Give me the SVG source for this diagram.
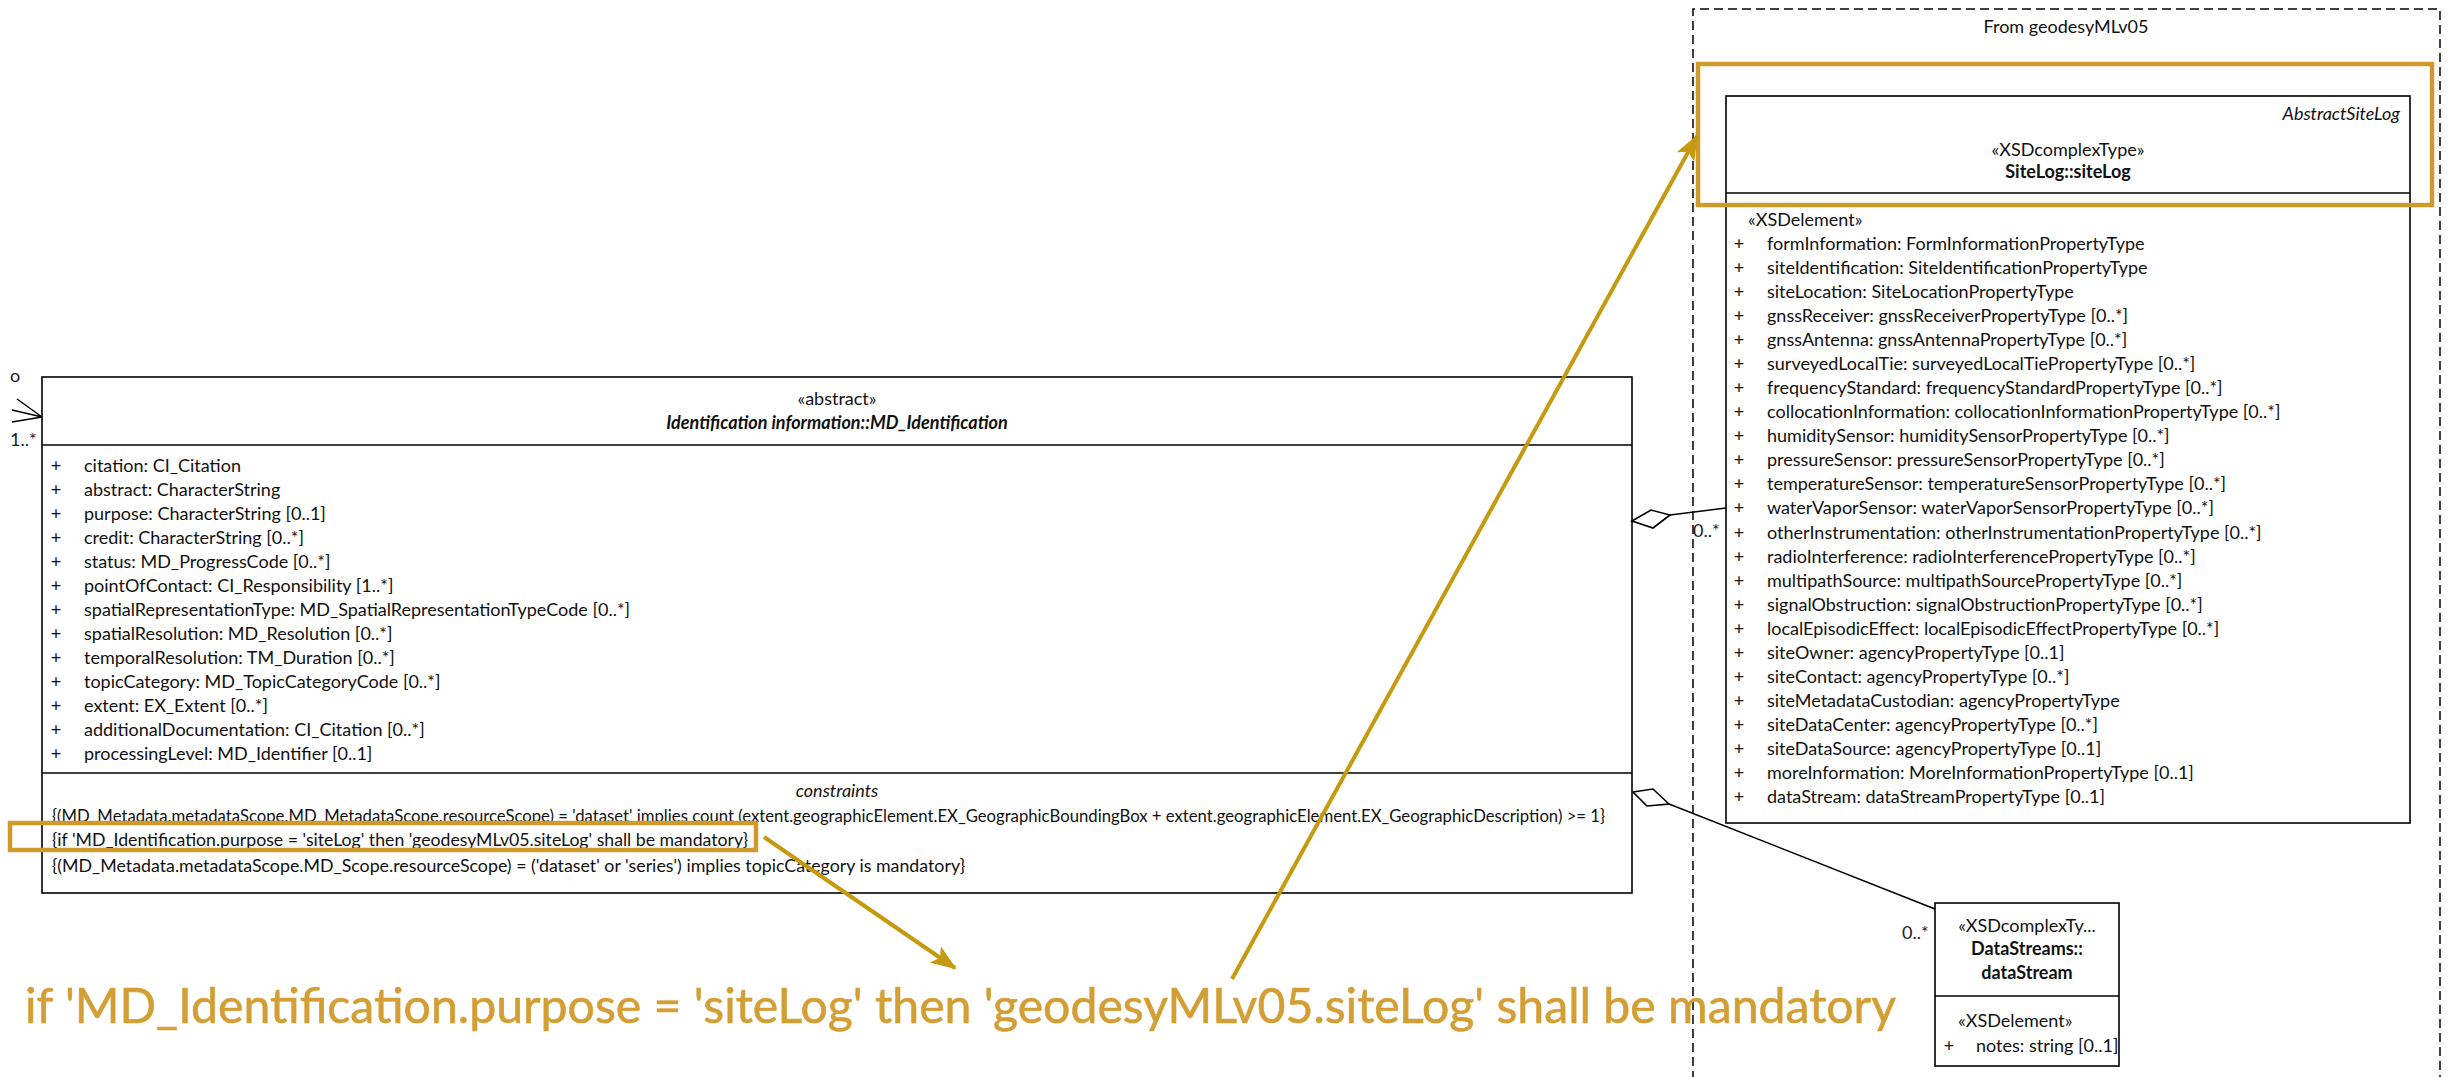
<svg xmlns="http://www.w3.org/2000/svg" width="2456" height="1077" viewBox="0 0 2456 1077">
<style>
.t{font-family:Lato,"Open Sans","Liberation Sans",sans-serif;font-size:18px;fill:#111}
.c{text-anchor:middle}
.b{font-weight:bold}
.i{font-style:italic}
.lbl{font-family:Lato,"Liberation Sans",sans-serif;font-size:18px;fill:#1a1a33}
.box{fill:#fff;stroke:#000;stroke-width:1.6}
.sep{stroke:#000;stroke-width:1.6}
.ln{fill:none;stroke:#000;stroke-width:1.5}
.dia{fill:#fff;stroke:#000;stroke-width:1.6}
.gold{fill:none;stroke:#CF9A2C;stroke-width:4.5}
.garr{fill:none;stroke:#C59A0E;stroke-width:4}
.big{font-family:Lato,"Open Sans","Liberation Sans",sans-serif;font-size:48px;fill:#D39F35;stroke:#D39F35;stroke-width:0.6}
</style>
<defs>
<marker id="ah" markerUnits="userSpaceOnUse" markerWidth="26" markerHeight="20" refX="24" refY="10" orient="auto" viewBox="0 0 26 20">
<path d="M0,0 L26,10 L0,20 L6,10 z" fill="#C59A0E"/>
</marker>
</defs>

<g id="package-geodesyMLv05">
<path d="M1693,1080 L1693,9 L2440,9 L2440,1080" fill="none" stroke="#000" stroke-width="1.5" stroke-dasharray="9,5"/>
<text class="t c" x="2066" y="33">From geodesyMLv05</text>
</g>

<g id="MD_Identification">
<rect class="box" x="42" y="377" width="1590" height="516"/>
<line class="sep" x1="42" y1="445" x2="1632" y2="445"/>
<line class="sep" x1="42" y1="773" x2="1632" y2="773"/>
<text class="t c" x="837" y="405">«abstract»</text>
<text class="t c b i" x="837" y="429">Identification information::MD_Identification</text>
<g class="t">
<text x="56" y="472" class="c">+</text><text x="84" y="472">citation: CI_Citation</text>
<text x="56" y="496" class="c">+</text><text x="84" y="496">abstract: CharacterString</text>
<text x="56" y="520" class="c">+</text><text x="84" y="520">purpose: CharacterString [0..1]</text>
<text x="56" y="544" class="c">+</text><text x="84" y="544">credit: CharacterString [0..*]</text>
<text x="56" y="568" class="c">+</text><text x="84" y="568">status: MD_ProgressCode [0..*]</text>
<text x="56" y="592" class="c">+</text><text x="84" y="592">pointOfContact: CI_Responsibility [1..*]</text>
<text x="56" y="616" class="c">+</text><text x="84" y="616">spatialRepresentationType: MD_SpatialRepresentationTypeCode [0..*]</text>
<text x="56" y="640" class="c">+</text><text x="84" y="640">spatialResolution: MD_Resolution [0..*]</text>
<text x="56" y="664" class="c">+</text><text x="84" y="664">temporalResolution: TM_Duration [0..*]</text>
<text x="56" y="688" class="c">+</text><text x="84" y="688">topicCategory: MD_TopicCategoryCode [0..*]</text>
<text x="56" y="712" class="c">+</text><text x="84" y="712">extent: EX_Extent [0..*]</text>
<text x="56" y="736" class="c">+</text><text x="84" y="736">additionalDocumentation: CI_Citation [0..*]</text>
<text x="56" y="760" class="c">+</text><text x="84" y="760">processingLevel: MD_Identifier [0..1]</text>
</g>
<text class="t c i" x="837" y="797">constraints</text>
<text class="t" x="52" y="822" textLength="1553" lengthAdjust="spacingAndGlyphs">{(MD_Metadata.metadataScope.MD_MetadataScope.resourceScope) = 'dataset' implies count (extent.geographicElement.EX_GeographicBoundingBox + extent.geographicElement.EX_GeographicDescription) &gt;= 1}</text>
<text class="t" x="52" y="846" textLength="696" lengthAdjust="spacingAndGlyphs">{if 'MD_Identification.purpose = 'siteLog' then 'geodesyMLv05.siteLog' shall be mandatory}</text>
<text class="t" x="52" y="872" textLength="913" lengthAdjust="spacingAndGlyphs">{(MD_Metadata.metadataScope.MD_Scope.resourceScope) = ('dataset' or 'series') implies topicCategory is mandatory}</text>
</g>

<g id="siteLog">
<rect class="box" x="1726" y="96" width="684" height="727"/>
<line class="sep" x1="1726" y1="193" x2="2410" y2="193"/>
<text class="t i" x="2400" y="120" text-anchor="end">AbstractSiteLog</text>
<text class="t c" x="2068" y="156">«XSDcomplexType»</text>
<text class="t c b" x="2068" y="178">SiteLog::siteLog</text>
<g class="t">
<text x="1748" y="226">«XSDelement»</text>
<text x="1739" y="250" class="c">+</text><text x="1767" y="250">formInformation: FormInformationPropertyType</text>
<text x="1739" y="274" class="c">+</text><text x="1767" y="274">siteIdentification: SiteIdentificationPropertyType</text>
<text x="1739" y="298.1" class="c">+</text><text x="1767" y="298.1">siteLocation: SiteLocationPropertyType</text>
<text x="1739" y="322.1" class="c">+</text><text x="1767" y="322.1">gnssReceiver: gnssReceiverPropertyType [0..*]</text>
<text x="1739" y="346.2" class="c">+</text><text x="1767" y="346.2">gnssAntenna: gnssAntennaPropertyType [0..*]</text>
<text x="1739" y="370.2" class="c">+</text><text x="1767" y="370.2">surveyedLocalTie: surveyedLocalTiePropertyType [0..*]</text>
<text x="1739" y="394.2" class="c">+</text><text x="1767" y="394.2">frequencyStandard: frequencyStandardPropertyType [0..*]</text>
<text x="1739" y="418.3" class="c">+</text><text x="1767" y="418.3">collocationInformation: collocationInformationPropertyType [0..*]</text>
<text x="1739" y="442.3" class="c">+</text><text x="1767" y="442.3">humiditySensor: humiditySensorPropertyType [0..*]</text>
<text x="1739" y="466.4" class="c">+</text><text x="1767" y="466.4">pressureSensor: pressureSensorPropertyType [0..*]</text>
<text x="1739" y="490.4" class="c">+</text><text x="1767" y="490.4">temperatureSensor: temperatureSensorPropertyType [0..*]</text>
<text x="1739" y="514.4" class="c">+</text><text x="1767" y="514.4">waterVaporSensor: waterVaporSensorPropertyType [0..*]</text>
<text x="1739" y="538.5" class="c">+</text><text x="1767" y="538.5">otherInstrumentation: otherInstrumentationPropertyType [0..*]</text>
<text x="1739" y="562.5" class="c">+</text><text x="1767" y="562.5">radioInterference: radioInterferencePropertyType [0..*]</text>
<text x="1739" y="586.6" class="c">+</text><text x="1767" y="586.6">multipathSource: multipathSourcePropertyType [0..*]</text>
<text x="1739" y="610.6" class="c">+</text><text x="1767" y="610.6">signalObstruction: signalObstructionPropertyType [0..*]</text>
<text x="1739" y="634.6" class="c">+</text><text x="1767" y="634.6">localEpisodicEffect: localEpisodicEffectPropertyType [0..*]</text>
<text x="1739" y="658.7" class="c">+</text><text x="1767" y="658.7">siteOwner: agencyPropertyType [0..1]</text>
<text x="1739" y="682.7" class="c">+</text><text x="1767" y="682.7">siteContact: agencyPropertyType [0..*]</text>
<text x="1739" y="706.8" class="c">+</text><text x="1767" y="706.8">siteMetadataCustodian: agencyPropertyType</text>
<text x="1739" y="730.8" class="c">+</text><text x="1767" y="730.8">siteDataCenter: agencyPropertyType [0..*]</text>
<text x="1739" y="754.8" class="c">+</text><text x="1767" y="754.8">siteDataSource: agencyPropertyType [0..1]</text>
<text x="1739" y="778.9" class="c">+</text><text x="1767" y="778.9">moreInformation: MoreInformationPropertyType [0..1]</text>
<text x="1739" y="802.9" class="c">+</text><text x="1767" y="802.9">dataStream: dataStreamPropertyType [0..1]</text>
</g>
</g>

<g id="dataStream">
<rect class="box" x="1935" y="903" width="184" height="163"/>
<line class="sep" x1="1935" y1="996" x2="2119" y2="996"/>
<text class="t c" x="2027" y="932">«XSDcomplexTy...</text>
<text class="t c b" x="2027" y="955">DataStreams::</text>
<text class="t c b" x="2027" y="979">dataStream</text>
<text class="t" x="1958" y="1027">«XSDelement»</text>
<text class="t c" x="1949" y="1052">+</text>
<text class="t" x="1976" y="1052">notes: string [0..1]</text>
</g>

<g id="connectors">
<path class="ln" d="M1670,515 L1726,508"/>
<path class="dia" d="M1632,521 L1651,510 L1670,515 L1653,528 z"/>
<text class="lbl" x="1693" y="537">0..*</text>
<path class="ln" d="M1669,804 L1935,909"/>
<path class="dia" d="M1633,792 L1653,789 L1669,804 L1647,806 z"/>
<text class="lbl" x="1902" y="939">0..*</text>
<path class="ln" d="M12,410 L42,417 M17,399 L42,417 M12,422 L42,417"/>
<text class="lbl c" x="15" y="382">o</text>
<text class="lbl" x="10" y="446">1..*</text>
</g>

<g id="annotation">
<rect class="gold" x="1698" y="64" width="734" height="141"/>
<rect class="gold" x="10" y="823" width="746" height="27" stroke-width="4"/>
<line class="garr" x1="764" y1="837" x2="955" y2="968" marker-end="url(#ah)"/>
<line class="garr" x1="1232" y1="979" x2="1697" y2="136" marker-end="url(#ah)"/>
<text class="big" x="25" y="1023" textLength="1871" lengthAdjust="spacingAndGlyphs">if 'MD_Identification.purpose = 'siteLog' then 'geodesyMLv05.siteLog' shall be mandatory</text>
</g>
</svg>
